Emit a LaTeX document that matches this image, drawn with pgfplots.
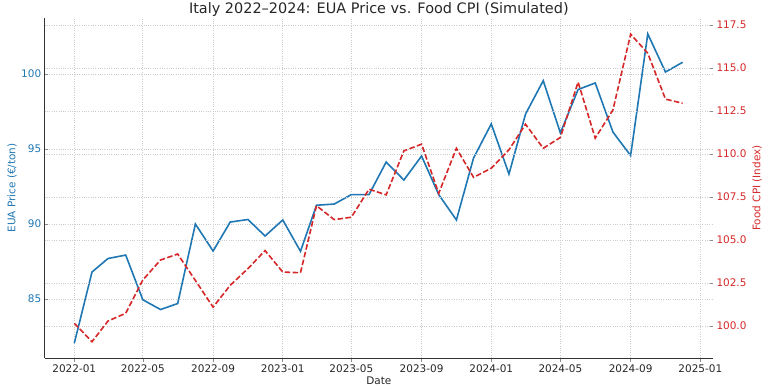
\documentclass[border=0pt]{standalone}
\usepackage{fontspec}
\setmainfont{DejaVu Sans}
\usepackage{pgfplots}
\usepackage{pgfplotstable}
\pgfplotsset{compat=1.18}
\definecolor{mblue}{HTML}{1F77B4}
\definecolor{mred}{HTML}{D62728}
\definecolor{txt}{HTML}{262626}

\pgfplotstableread{
d eua cpi
0 82.05 100.16
31 86.8 99.09
59 87.7 100.29
90 87.93 100.74
120 84.95 102.68
151 84.3 103.84
181 84.7 104.19
212 90.0 102.65
243 88.2 101.1
273 90.13 102.37
304 90.3 103.34
334 89.2 104.39
365 90.27 103.14
396 88.18 103.1
424 91.25 107.0
455 91.33 106.19
485 91.96 106.33
516 91.96 107.96
546 94.13 107.63
577 92.93 110.19
608 94.53 110.58
638 91.96 107.72
669 90.27 110.34
699 94.4 108.65
730 96.67 109.18
761 93.33 110.25
790 97.33 111.74
821 99.55 110.34
851 96.07 110.97
882 98.96 114.19
912 99.4 110.93
943 96.13 112.57
974 94.56 116.98
1004 102.67 115.87
1035 100.13 113.2
1065 100.78 112.96
}\data

\begin{document}
\begin{tikzpicture}
\pgfplotsset{every axis/.append style={
  scale only axis, width=668.3bp, height=340bp, at={(0,0)}, anchor=south west,
  xmin=-51.8, xmax=1118.2,
  font=\fontsize{10.5}{12}\selectfont,
  /pgf/number format/assume math mode=true,
  tick style={black!45, line width=0.6bp},
  major tick length=3.5bp,
  tick align=inside,
  grid style={black!20, line width=0.7bp, dash pattern=on 1bp off 1.3bp},
}}
\begin{axis}[
  axis y line*=left, axis x line*=bottom,
  axis line style={black!80, line width=0.8bp},
  ymin=81.07, ymax=103.73,
  ytick={85,90,95,100},
  xtick={0,120,243,365,485,608,730,851,974,1096},
  xticklabels={2022-01,2022-05,2022-09,2023-01,2023-05,2023-09,2024-01,2024-05,2024-09,2025-01},
  xticklabel style={txt, yshift=-3.5bp},
  x tick style={yshift=-3.5bp},
  xmajorgrids, ymajorgrids,
  yticklabel style={mblue},
  ylabel={EUA Price (€/ton)},
  ylabel style={mblue, at={(axis description cs:0,0.5)}, yshift=32.7bp, anchor=center},
  xlabel={Date},
  xlabel style={txt, at={(axis description cs:0.5,0)}, yshift=-23bp, anchor=center},
  title={Italy 2022–2024: EUA Price vs. Food CPI (Simulated)},
  every axis title shift=0pt,
  title style={txt, font=\fontsize{14.5}{16}\selectfont, at={(axis description cs:0.5,1)}, anchor=base, yshift=4bp},
]
\addplot[mblue, line width=1.6bp] table[x=d, y=eua] {\data};
\end{axis}
\begin{axis}[
  axis y line*=right, axis x line=none,
  axis line style={draw=none},
  ymin=98.14, ymax=117.92,
  ytick={100,102.5,105,107.5,110,112.5,115,117.5},
  xtick=\empty,
  ymajorgrids,
  yticklabel style={mred, /pgf/number format/.cd, fixed, fixed zerofill, precision=1},
  ylabel={Food CPI (Index)},
  ylabel style={mred, at={(axis description cs:1,0.5)}, yshift=-44bp, anchor=center},
]
\addplot[mred, line width=1.6bp, dash pattern=on 5.5bp off 2.4bp] table[x=d, y=cpi] {\data};
\end{axis}
\pgfresetboundingbox
\useasboundingbox (-44.7bp,-32bp) rectangle (723.3bp,358bp);
\end{tikzpicture}
\end{document}
